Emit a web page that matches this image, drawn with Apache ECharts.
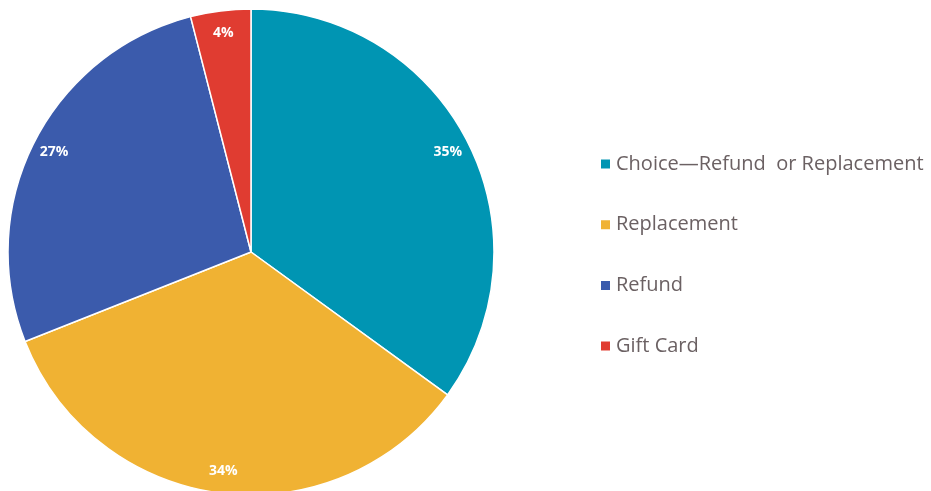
<!DOCTYPE html>
<html>
<head>
<meta charset="utf-8">
<script src="https://cdn.jsdelivr.net/npm/echarts@6/dist/echarts.min.js"></script>
<style>
  html, body { margin: 0; padding: 0; background: #fff; }
  #pie { width: 931px; height: 491px; }
</style>
</head>
<body>
<div id="pie"></div>
<script>
var categories = ["Choice\u2014Refund  or Replacement", "Replacement", "Refund", "Gift Card"];
var values = [35, 34, 27, 4];
var colors = ["#0095B3", "#F0B233", "#3B5BAC", "#E03C31"];

var pieData = [];
for (var i = 0; i < categories.length; i++) {
  pieData.push({ name: categories[i], value: values[i], itemStyle: { color: colors[i] } });
}

var myChart = echarts.init(document.getElementById("pie"));
myChart.setOption({
  animation: false,
  color: colors,
  legend: {
    orient: "vertical",
    left: 594,
    top: 149,
    itemWidth: 11,
    itemHeight: 11,
    itemGap: 40.7,
    icon: "rect",
    textStyle: {
      fontFamily: "Open Sans",
      fontSize: 20,
      color: "#6b6163"
    },
    data: categories
  },
  series: [
    {
      name: "main",
      type: "pie",
      center: [251, 252],
      radius: 243,
      startAngle: 90,
      clockwise: true,
      label: { show: false },
      labelLine: { show: false },
      itemStyle: { borderColor: "#fff", borderWidth: 1.5 },
      emphasis: { disabled: true },
      data: pieData
    },
    {
      // transparent ring only used to place the % labels near the rim
      name: "labels",
      type: "pie",
      center: [251, 252],
      radius: [193, 243],
      startAngle: 90,
      clockwise: true,
      silent: true,
      itemStyle: { color: "rgba(0,0,0,0)", borderWidth: 0 },
      label: {
        show: true,
        position: "inside",
        formatter: "{c}%",
        color: "#fff",
        fontFamily: "Open Sans",
        fontWeight: "bold",
        fontSize: 14
      },
      labelLine: { show: false },
      emphasis: { disabled: true },
      data: pieData.map(function (d) { return { name: d.name, value: d.value, itemStyle: { color: "rgba(0,0,0,0)" } }; })
    }
  ]
});
</script>
</body>
</html>
